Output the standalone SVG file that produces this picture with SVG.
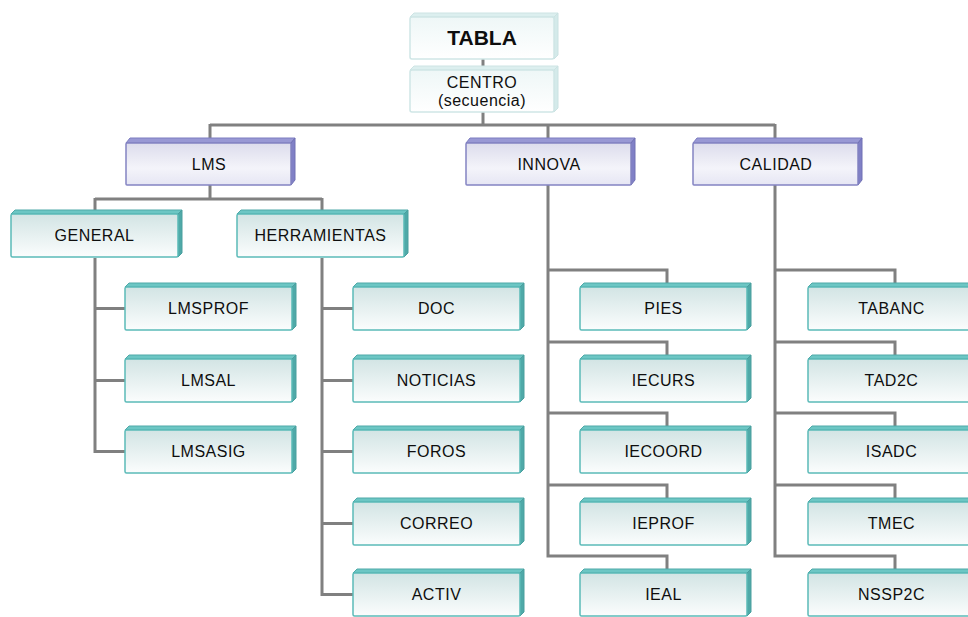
<svg xmlns="http://www.w3.org/2000/svg" xmlns:xlink="http://www.w3.org/1999/xlink" width="968" height="617" viewBox="0 0 968 617">
<style>
.lbl{font-family:"Liberation Sans",Arial,sans-serif;font-size:16px;letter-spacing:0.5px;fill:#0e0e0e;text-anchor:middle}
.ttl{font-family:"Liberation Sans",Arial,sans-serif;font-size:21px;font-weight:bold;fill:#0e0e0e;text-anchor:middle}
.conn{fill:none;stroke:#808080;stroke-width:3}
.tTop{fill:#6cc6c4;stroke:#4fa9a8;stroke-width:1}
.tSide{fill:#4fa9a8;stroke:#4a9f9e;stroke-width:1}
.tFront{fill:url(#gTeal);stroke:#5bbab8;stroke-width:1.5}
.pTop{fill:#9898d4;stroke:#7c7cc0;stroke-width:1}
.pSide{fill:#8080c6;stroke:#7070b4;stroke-width:1}
.pFront{fill:url(#gPurple);stroke:#8484c2;stroke-width:1.5}
.cTop{fill:#dcefef;stroke:#cde4e4;stroke-width:1}
.cSide{fill:#d4eaea;stroke:#cbe2e2;stroke-width:1}
.cFront{fill:url(#gPale);stroke:#cfe6e6;stroke-width:1.5}
</style>
<defs>
<linearGradient id="gTeal" x1="0" y1="0" x2="0" y2="1">
<stop offset="0" stop-color="#d2e4e4"/><stop offset="1" stop-color="#fbfdfd"/>
</linearGradient>
<linearGradient id="gPurple" x1="0" y1="0" x2="0" y2="1">
<stop offset="0" stop-color="#dcdcec"/><stop offset="0.6" stop-color="#f4f4fa"/><stop offset="1" stop-color="#e6e6f4"/>
</linearGradient>
<linearGradient id="gPale" x1="0" y1="0" x2="0" y2="1">
<stop offset="0" stop-color="#eef7f7"/><stop offset="1" stop-color="#ffffff"/>
</linearGradient>
<g id="tealBox">
<polygon class="tTop" points="0,0 4,-4 171,-4 167,0"/>
<polygon class="tSide" points="167,0 171,-4 171,39 167,43"/>
<rect class="tFront" x="0" y="0" width="167" height="43" rx="1.5"/>
</g>
<g id="purpleBox">
<polygon class="pTop" points="0,0 4,-5 169,-5 165,0"/>
<polygon class="pSide" points="165,0 169,-5 169,37 165,42"/>
<rect class="pFront" x="0" y="0" width="165" height="42" rx="1"/>
</g>
<g id="paleBox">
<polygon class="cTop" points="0,0 4,-4 148,-4 144,0"/>
<polygon class="cSide" points="144,0 148,-4 148,38 144,42"/>
<rect class="cFront" x="0" y="0" width="144" height="42" rx="2"/>
</g>
</defs>
<rect width="968" height="617" fill="#ffffff"/>

<g id="connectors">
<path class="conn" d="M483,59 V66"/>
<path class="conn" d="M483,112 V125 M210,125 H775 M210,124 V143 M548,124 V143 M775,124 V143"/>
<path class="conn" d="M210,185 V199 M95,199 H322 M95,198 V214 M322,198 V214"/>
<path class="conn" d="M95,258 V451.5 H125 M95,308.5 H125 M95,380.5 H125"/>
<path class="conn" d="M322,258 V594.5 H353 M322,308.5 H353 M322,380.5 H353 M322,451.5 H353 M322,523.5 H353"/>
<path class="conn" d="M548,185 V556 H667 V573 M548,270 H667 V287 M548,342 H667 V359 M548,413 H667 V430 M548,485 H667 V502"/>
<path class="conn" d="M775,185 V556 H895 V573 M775,270 H895 V287 M775,342 H895 V359 M775,413 H895 V430 M775,485 H895 V502"/>
</g>

<g id="tabla" transform="translate(410,17)"><use xlink:href="#paleBox"/><text class="ttl" x="72" y="28">TABLA</text></g>
<g id="centro" transform="translate(410,70)"><use xlink:href="#paleBox"/><text class="lbl" x="72" y="18">CENTRO</text><text class="lbl" x="72" y="36">(secuencia)</text></g>

<g id="lms" transform="translate(126,143)"><use xlink:href="#purpleBox"/><text class="lbl" x="83" y="27">LMS</text></g>
<g id="innova" transform="translate(466,143)"><use xlink:href="#purpleBox"/><text class="lbl" x="83" y="27">INNOVA</text></g>
<g id="calidad" transform="translate(693,143)"><use xlink:href="#purpleBox"/><text class="lbl" x="83" y="27">CALIDAD</text></g>

<g id="general" transform="translate(11,214)"><use xlink:href="#tealBox"/><text class="lbl" x="83.5" y="27">GENERAL</text></g>
<g id="herramientas" transform="translate(237,214)"><use xlink:href="#tealBox"/><text class="lbl" x="83.5" y="27">HERRAMIENTAS</text></g>

<g id="lmsprof" transform="translate(125,287)"><use xlink:href="#tealBox"/><text class="lbl" x="83.5" y="27">LMSPROF</text></g>
<g id="lmsal" transform="translate(125,359)"><use xlink:href="#tealBox"/><text class="lbl" x="83.5" y="27">LMSAL</text></g>
<g id="lmsasig" transform="translate(125,430)"><use xlink:href="#tealBox"/><text class="lbl" x="83.5" y="27">LMSASIG</text></g>

<g id="doc" transform="translate(353,287)"><use xlink:href="#tealBox"/><text class="lbl" x="83.5" y="27">DOC</text></g>
<g id="noticias" transform="translate(353,359)"><use xlink:href="#tealBox"/><text class="lbl" x="83.5" y="27">NOTICIAS</text></g>
<g id="foros" transform="translate(353,430)"><use xlink:href="#tealBox"/><text class="lbl" x="83.5" y="27">FOROS</text></g>
<g id="correo" transform="translate(353,502)"><use xlink:href="#tealBox"/><text class="lbl" x="83.5" y="27">CORREO</text></g>
<g id="activ" transform="translate(353,573)"><use xlink:href="#tealBox"/><text class="lbl" x="83.5" y="27">ACTIV</text></g>

<g id="pies" transform="translate(580,287)"><use xlink:href="#tealBox"/><text class="lbl" x="83.5" y="27">PIES</text></g>
<g id="iecurs" transform="translate(580,359)"><use xlink:href="#tealBox"/><text class="lbl" x="83.5" y="27">IECURS</text></g>
<g id="iecoord" transform="translate(580,430)"><use xlink:href="#tealBox"/><text class="lbl" x="83.5" y="27">IECOORD</text></g>
<g id="ieprof" transform="translate(580,502)"><use xlink:href="#tealBox"/><text class="lbl" x="83.5" y="27">IEPROF</text></g>
<g id="ieal" transform="translate(580,573)"><use xlink:href="#tealBox"/><text class="lbl" x="83.5" y="27">IEAL</text></g>

<g id="tabanc" transform="translate(808,287)"><use xlink:href="#tealBox"/><text class="lbl" x="83.5" y="27">TABANC</text></g>
<g id="tad2c" transform="translate(808,359)"><use xlink:href="#tealBox"/><text class="lbl" x="83.5" y="27">TAD2C</text></g>
<g id="isadc" transform="translate(808,430)"><use xlink:href="#tealBox"/><text class="lbl" x="83.5" y="27">ISADC</text></g>
<g id="tmec" transform="translate(808,502)"><use xlink:href="#tealBox"/><text class="lbl" x="83.5" y="27">TMEC</text></g>
<g id="nssp2c" transform="translate(808,573)"><use xlink:href="#tealBox"/><text class="lbl" x="83.5" y="27">NSSP2C</text></g>
</svg>
